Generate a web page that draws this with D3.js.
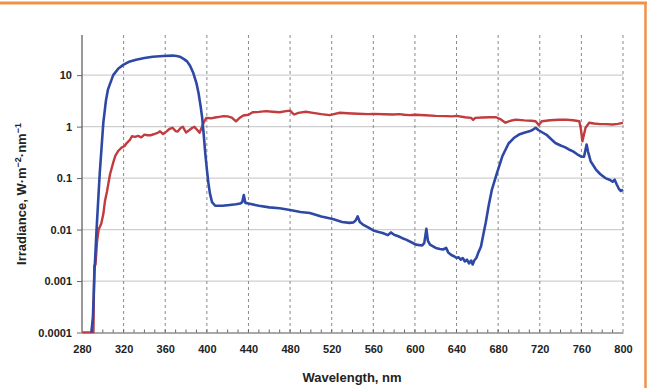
<!DOCTYPE html>
<html><head><meta charset="utf-8">
<script src="https://cdn.jsdelivr.net/npm/d3@7"></script>
<style>
html,body{margin:0;padding:0;background:#fff;}
svg{display:block;}
text{font-family:"Liberation Sans",Arial,sans-serif;font-weight:bold;fill:#222;}
</style></head>
<body>
<svg id="chart" width="650" height="388"></svg>
<script>
// ---- data ----
const xTicks = [280,320,360,400,440,480,520,560,600,640,680,720,760,800];
const yTicks = [0.0001,0.001,0.01,0.1,1,10];
const yTickLabels = ["0.0001","0.001","0.01","0.1","1","10"];

const blueNm = [289,290.5,292,294,297,300.5,303,305,310,315,320,326,332,340,348,358,367,371,374,378,381,384,387,390,392,394,395.5,397,398.5,400,401.5,403,405,408,415,422,428,432,434,435.5,437,440,450,460,470,480,490,499,510,521,530,537,541,543,545,547,550,555,560,565,569,574,577,580,584,588,592,597,601,607,609,611,612.5,614.5,620,624,627,630,632,635,638,640,642,644,646,648,650,652,654,655.5,657,659,661,663.5,666,668,671,674,678,684,690,695,700,705,710,713,716,719,723,727,731,735,740,744,748,752,756,760,762.5,763.5,765,766.5,769,772,774,778,783,787,790,792,794,796,798,800];
const blueVal = [0.0001,0.0002,0.0015,0.01,0.12,1.2,3.2,5.3,10,13.5,16,18.5,20,21.5,22.8,23.5,24,23.5,22.8,20.5,18.5,15,11,7,4.5,2.5,1.5,0.7,0.3,0.15,0.08,0.05,0.034,0.029,0.029,0.030,0.031,0.032,0.034,0.047,0.033,0.032,0.029,0.027,0.026,0.024,0.022,0.021,0.018,0.016,0.014,0.0135,0.0138,0.015,0.018,0.014,0.0125,0.011,0.0096,0.009,0.0086,0.0078,0.0088,0.0079,0.0074,0.0068,0.0063,0.0056,0.0051,0.0049,0.0055,0.0103,0.006,0.0051,0.0044,0.0042,0.0041,0.0044,0.0036,0.0032,0.0030,0.0028,0.0029,0.0026,0.0028,0.0024,0.0026,0.0022,0.0025,0.0021,0.0025,0.0028,0.0036,0.0047,0.0085,0.0134,0.03,0.06,0.11,0.265,0.47,0.6,0.7,0.76,0.81,0.86,0.95,0.85,0.76,0.68,0.57,0.48,0.43,0.40,0.36,0.33,0.29,0.26,0.26,0.32,0.45,0.32,0.21,0.17,0.146,0.12,0.1,0.093,0.085,0.093,0.075,0.062,0.056,0.06];

const redNm = [280,291,291.8,293,294.5,296,298.5,300.5,302,304,307,310,312,315,318,321,323,326,328,331,334,337,340,343,346,350,353,355,358,361,364,367,370,372,375,377,380,383,386,388,391,393,395,397,399.5,404,408,412,416,420,424,428,431,435,440,444,450,457,463,470,476,480,482,484,488,495,502,510,518,522,528,535,545,555,560,570,579,585,590,595,600,610,620,630,636,640,648,654,656,658,665,672,678,682,687,692,697,705,712,716,719,722,730,738,745,752,758,759.5,761,762.5,764,767.5,772,778,783,790,795,800];
const redVal = [0.0001,0.0001,0.002,0.0021,0.006,0.01,0.013,0.02,0.035,0.055,0.12,0.2,0.27,0.34,0.39,0.42,0.48,0.55,0.65,0.63,0.66,0.62,0.70,0.68,0.68,0.72,0.76,0.81,0.72,0.8,0.9,0.95,0.82,0.8,0.95,0.99,0.77,0.85,0.95,0.99,0.85,0.76,0.95,1.2,1.48,1.45,1.5,1.55,1.6,1.58,1.5,1.27,1.45,1.64,1.7,1.9,1.93,2.0,1.95,1.9,2.0,2.05,1.85,1.72,1.85,1.94,1.85,1.75,1.67,1.75,1.86,1.82,1.78,1.75,1.77,1.74,1.72,1.75,1.7,1.67,1.7,1.66,1.62,1.6,1.58,1.62,1.52,1.48,1.35,1.48,1.5,1.52,1.52,1.4,1.19,1.3,1.37,1.32,1.3,1.27,1.07,1.27,1.33,1.36,1.37,1.33,1.27,0.9,0.52,0.7,0.95,1.19,1.15,1.12,1.12,1.1,1.13,1.18];

// ---- layout ----
const L = 82, R = 623, T = 35, B = 332.5;
const svg = d3.select("#chart");
const x = d3.scaleLinear().domain([280,800]).range([L,R]);
const y = d3.scaleLog().domain([0.0001, Math.pow(10,1.78)]).range([B,T]);

// border
svg.append("line").attr("x1",0).attr("x2",647).attr("y1",3).attr("y2",3)
  .attr("stroke","#F0914A").attr("stroke-width",3);
svg.append("line").attr("x1",645.5).attr("x2",645.5).attr("y1",2).attr("y2",388)
  .attr("stroke","#F0914A").attr("stroke-width",2.5);

// horizontal gridlines
svg.append("g").selectAll("line").data(yTicks.slice(1)).join("line")
  .attr("x1",L).attr("x2",R).attr("y1",d=>y(d)).attr("y2",d=>y(d))
  .attr("stroke","#CFCFCF").attr("stroke-width",1.2);

// vertical dashed gridlines
svg.append("g").selectAll("line").data(xTicks.slice(1)).join("line")
  .attr("x1",d=>x(d)).attr("x2",d=>x(d)).attr("y1",T).attr("y2",B)
  .attr("stroke","#8A8A8A").attr("stroke-width",1).attr("stroke-dasharray","3,3");

// minor x ticks (inside, every 10 nm)
svg.append("g").selectAll("line").data(d3.range(290,800,10)).join("line")
  .attr("x1",d=>x(d)).attr("x2",d=>x(d)).attr("y1",B).attr("y2",B-3)
  .attr("stroke","#666").attr("stroke-width",1);

// x axis
const gx = svg.append("g").attr("transform",`translate(0,${B})`)
  .call(d3.axisBottom(x).tickValues(xTicks).tickSize(0).tickPadding(13).tickFormat(d3.format("d")));
gx.select(".domain").attr("stroke","#555").attr("stroke-width",1.2);
gx.selectAll("text").style("font-size","11px").style("font-family","Liberation Sans, Arial, sans-serif").style("font-weight","bold").attr("fill","#222");

// y axis
const gy = svg.append("g").attr("transform",`translate(${L},0)`)
  .call(d3.axisLeft(y).tickValues(yTicks).tickSize(5).tickPadding(5).tickFormat((d,i)=>yTickLabels[i]));
gy.select(".domain").attr("stroke","#555").attr("stroke-width",1.2).attr("d",`M0,${T}V${B}`);
gy.selectAll(".tick line").attr("stroke","#666");
gy.selectAll("text").style("font-size","11px").style("font-family","Liberation Sans, Arial, sans-serif").style("font-weight","bold").attr("fill","#222");

// clip
svg.append("clipPath").attr("id","clip").append("rect")
  .attr("x",L).attr("y",T-2).attr("width",R-L+2).attr("height",B-T+3);

const line = d3.line().x(d=>x(d[0])).y(d=>y(d[1]));
const blue = blueNm.map((n,i)=>[n,blueVal[i]]);
const red = redNm.map((n,i)=>[n,redVal[i]]);
const gl = svg.append("g").attr("clip-path","url(#clip)");
gl.append("path").datum(red).attr("d",line).attr("fill","none")
  .attr("stroke","#C23B3E").attr("stroke-width",2.4).attr("stroke-linejoin","round");
gl.append("path").datum(blue).attr("d",line).attr("fill","none")
  .attr("stroke","#2E48A6").attr("stroke-width",2.6).attr("stroke-linejoin","round");

// axis titles
svg.append("text").attr("x",352).attr("y",382).attr("text-anchor","middle")
  .style("font-size","13px").text("Wavelength, nm");

const yt = svg.append("text").attr("transform","translate(26,194) rotate(-90)")
  .attr("text-anchor","middle").style("font-size","13px");
yt.append("tspan").text("Irradiance, W·m");
yt.append("tspan").attr("baseline-shift","super").style("font-size","9px").text("−2");
yt.append("tspan").text("·nm");
yt.append("tspan").attr("baseline-shift","super").style("font-size","9px").text("−1");
</script>
</body></html>
